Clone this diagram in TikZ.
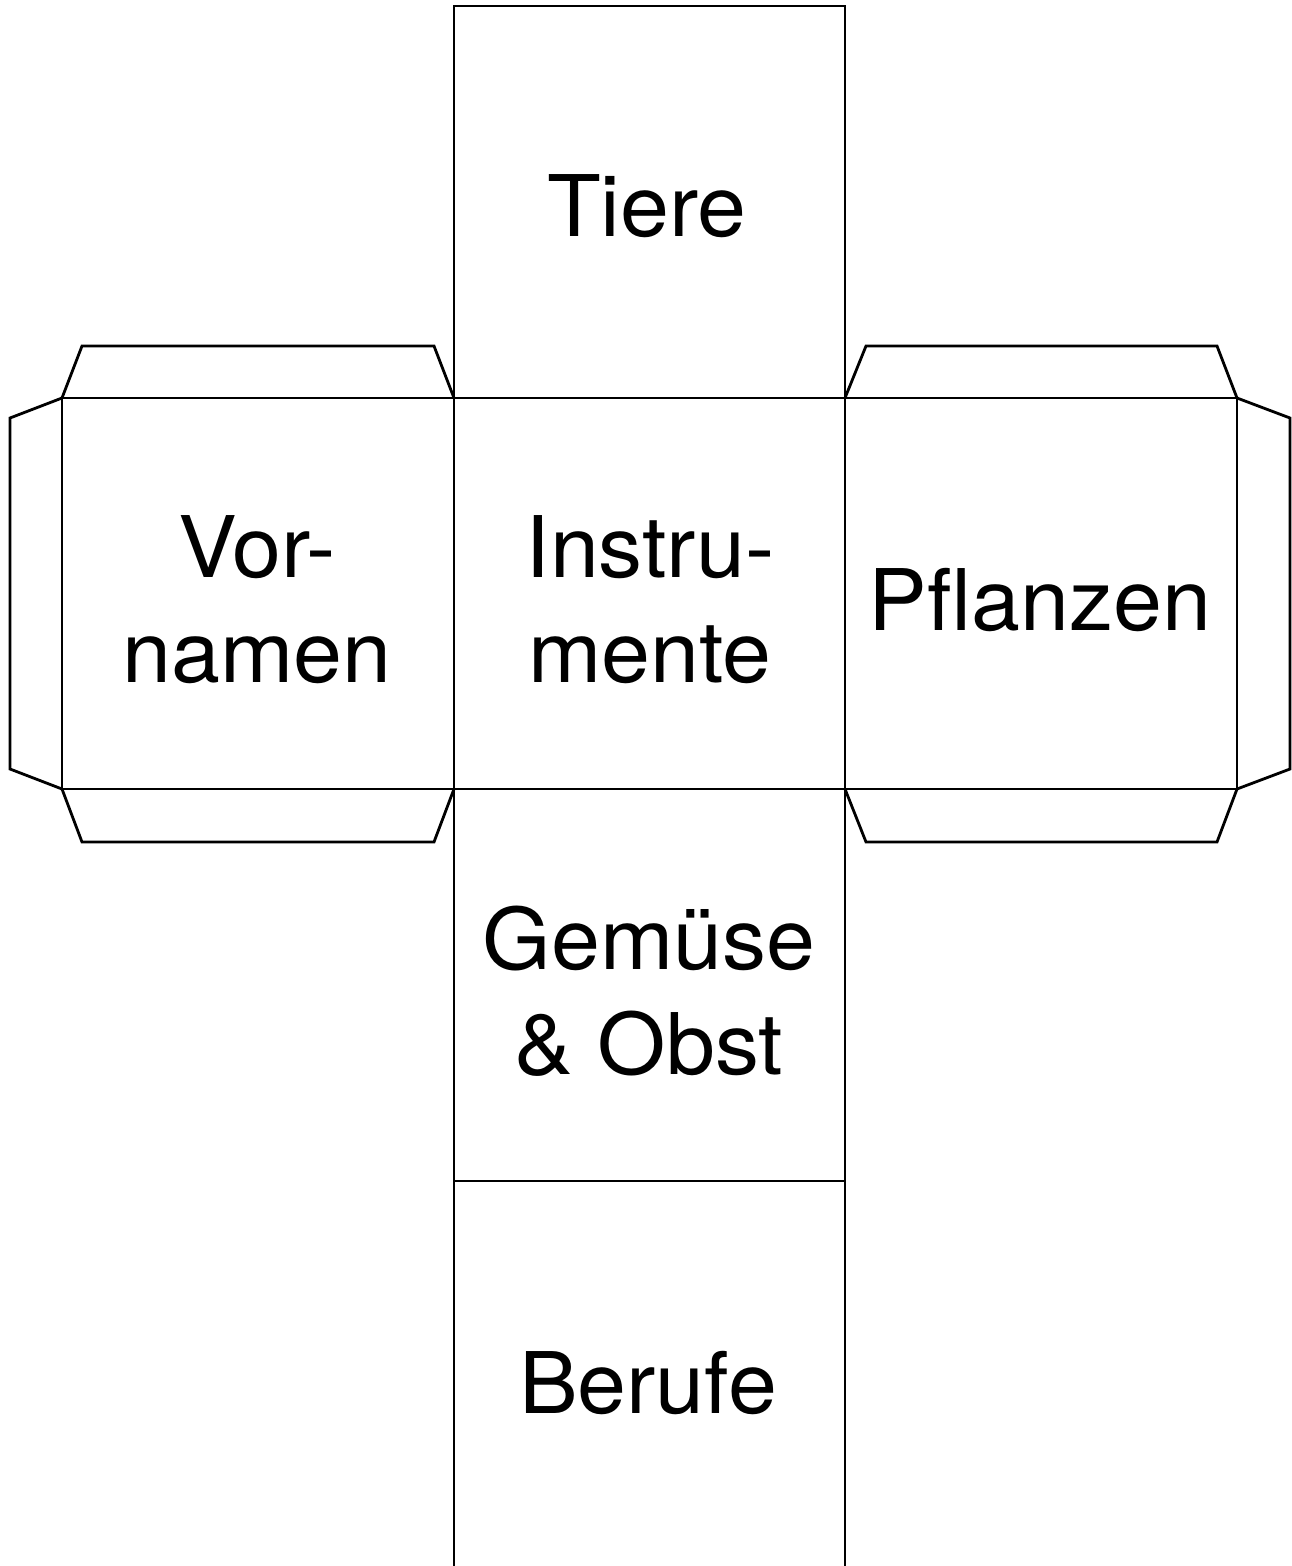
\documentclass[tikz,border=0pt]{standalone}
\usepackage{fontspec}
\setmainfont[FakeStretch=1.035]{TeX Gyre Heros}
\begin{document}
\begin{tikzpicture}[x=1pt,y=-1pt,
  edge/.style={line width=2.8pt, black, line join=miter},
  facelabel/.style={font=\fontsize{85}{105}\selectfont, align=center, inner sep=0pt}]
\useasboundingbox (0,0) rectangle (1292,1566);
% centre column (open at the bottom)
\draw[edge] (454,1570) -- (454,6) -- (845,6) -- (845,1570);
% horizontal edges
\draw[edge] (62,398) -- (1237,398);
\draw[edge] (62,789) -- (1237,789);
\draw[edge] (454,1181) -- (845,1181);
% outer verticals of side faces
\draw[edge] (62,398) -- (62,789);
\draw[edge] (1237,398) -- (1237,789);
% left tabs
\draw[edge] (62,398) -- (82,346) -- (434,346) -- (454,398);
\draw[edge] (62,789) -- (82,842) -- (434,842) -- (454,789);
\draw[edge] (62,398) -- (10,418) -- (10,769) -- (62,789);
% right tabs
\draw[edge] (845,398) -- (866,346) -- (1217,346) -- (1237,398);
\draw[edge] (845,789) -- (866,842) -- (1217,842) -- (1237,789);
\draw[edge] (1237,398) -- (1290,418) -- (1290,769) -- (1237,789);
% labels
\node[facelabel, anchor=base] (tiere) at (647,236) {Tiere};
\node[facelabel] (vornamen) at (257,600) {Vor-\\namen};
\node[facelabel] (instrumente) at (650,600) {Instru-\\mente};
\node[facelabel, anchor=base] (pflanzen) at (1040,630) {Pflanzen};
\node[facelabel] (gemuese) at (649,991) {Gemüse\\\& Obst};
\node[facelabel, anchor=base] (berufe) at (648,1413) {Berufe};
\end{tikzpicture}
\end{document}
